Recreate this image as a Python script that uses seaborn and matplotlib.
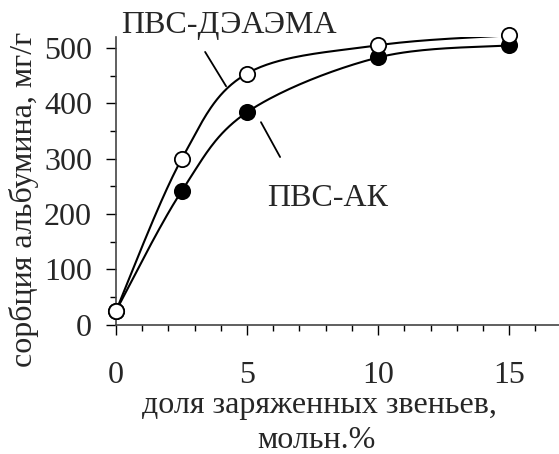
import numpy as np
import pandas as pd
import matplotlib
matplotlib.use("Agg")
import matplotlib.pyplot as plt
import seaborn as sns
from matplotlib.ticker import MultipleLocator

# доля заряженных звеньев, мольн.%
x_frac = [0, 2.5, 5, 10, 15]
# сорбция альбумина, мг/г
y_deaema = [25, 299, 454, 505, 523]
y_ak = [25, 241, 384, 483, 505]

series_names = ["ПВС-ДЭАЭМА", "ПВС-АК"]
x_ticks = [0, 5, 10, 15]
y_ticks = [0, 100, 200, 300, 400, 500]


def smooth_curve(xs, ys, n=40):
    """Smoothed line through the points (cubic Bezier, Catmull-Rom style)."""
    p = np.column_stack([xs, ys]).astype(float)
    out = []
    for i in range(len(p) - 1):
        p0 = p[i - 1] if i > 0 else p[i]
        p1, p2 = p[i], p[i + 1]
        p3 = p[i + 2] if i + 2 < len(p) else p[i + 1]
        c1 = p1 + (p2 - p0) / 6.0
        c2 = p2 - (p3 - p1) / 6.0
        t = np.linspace(0, 1, n)[:, None]
        seg = ((1 - t) ** 3) * p1 + 3 * ((1 - t) ** 2) * t * c1 + 3 * (1 - t) * t ** 2 * c2 + t ** 3 * p2
        out.append(seg if i == 0 else seg[1:])
    c = np.vstack(out)
    return c[:, 0], c[:, 1]


sns.set_style("ticks")
plt.rcParams["font.family"] = ["Liberation Serif", "DejaVu Serif"]
plt.rcParams["font.size"] = 23

fig = plt.figure(figsize=(5.59, 4.54), dpi=100)
ax = fig.add_axes([0.2075, 0.285, 0.7925, 0.6335])

frames = []
for name, ys in zip(series_names, [y_deaema, y_ak]):
    sx, sy = smooth_curve(x_frac, ys)
    frames.append(pd.DataFrame({"x": sx, "y": sy, "series": name}))
curves = pd.concat(frames, ignore_index=True)

sns.lineplot(data=curves, x="x", y="y", hue="series", sort=False,
             palette=["black", "black"], linewidth=1.5, legend=False, ax=ax)

pts_ak = pd.DataFrame({"x": x_frac, "y": y_ak})
pts_de = pd.DataFrame({"x": x_frac, "y": y_deaema})
ax.plot(pts_ak["x"], pts_ak["y"], "o", color="black", markersize=11,
        markeredgewidth=1.3, clip_on=False, zorder=5)
ax.plot(pts_de["x"], pts_de["y"], "o", markerfacecolor="white",
        markeredgecolor="black", markersize=11, markeredgewidth=1.3,
        clip_on=False, zorder=6)

ax.set_xlim(0, 16.9)
ax.set_ylim(0, 520)
ax.set_xticks(x_ticks)
ax.set_yticks(y_ticks)
ax.xaxis.set_minor_locator(MultipleLocator(1))
ax.yaxis.set_minor_locator(MultipleLocator(50))
ax.tick_params(axis="both", which="major", direction="out", length=7.2,
               width=1.0, color="black", labelsize=23)
ax.tick_params(axis="both", which="minor", direction="out", length=4.5,
               width=1.0, color="black")
ax.tick_params(axis="x", which="major", pad=19)
ax.tick_params(axis="y", which="major", pad=10)
for side in ("top", "right"):
    ax.spines[side].set_visible(False)
for side in ("left", "bottom"):
    ax.spines[side].set_linewidth(1.2)
    ax.spines[side].set_color("#444444")
ax.set_xlabel("")
ax.set_ylabel("")

# curve labels with leader lines
ax.text(229 / 559, 1 - 25 / 454, series_names[0], transform=fig.transFigure,
        ha="center", va="center", fontsize=23)
ax.text(328 / 559, 1 - 198 / 454, series_names[1], transform=fig.transFigure,
        ha="center", va="center", fontsize=23)
ax.plot([3.40, 4.20], [493, 431], color="black", lw=1.3, clip_on=False)
ax.plot([5.53, 6.26], [366, 303], color="black", lw=1.3, clip_on=False)

fig.text(24 / 559, 1 - 199 / 454, "сорбция альбумина, мг/г", rotation=90,
         ha="center", va="center", fontsize=23)
fig.text(319 / 559, 1 - 405 / 454, "доля заряженных звеньев,",
         ha="center", va="center", fontsize=23)
fig.text(316 / 559, 1 - 440 / 454, "мольн.%",
         ha="center", va="center", fontsize=23)

fig.savefig("out.png", dpi=100)
